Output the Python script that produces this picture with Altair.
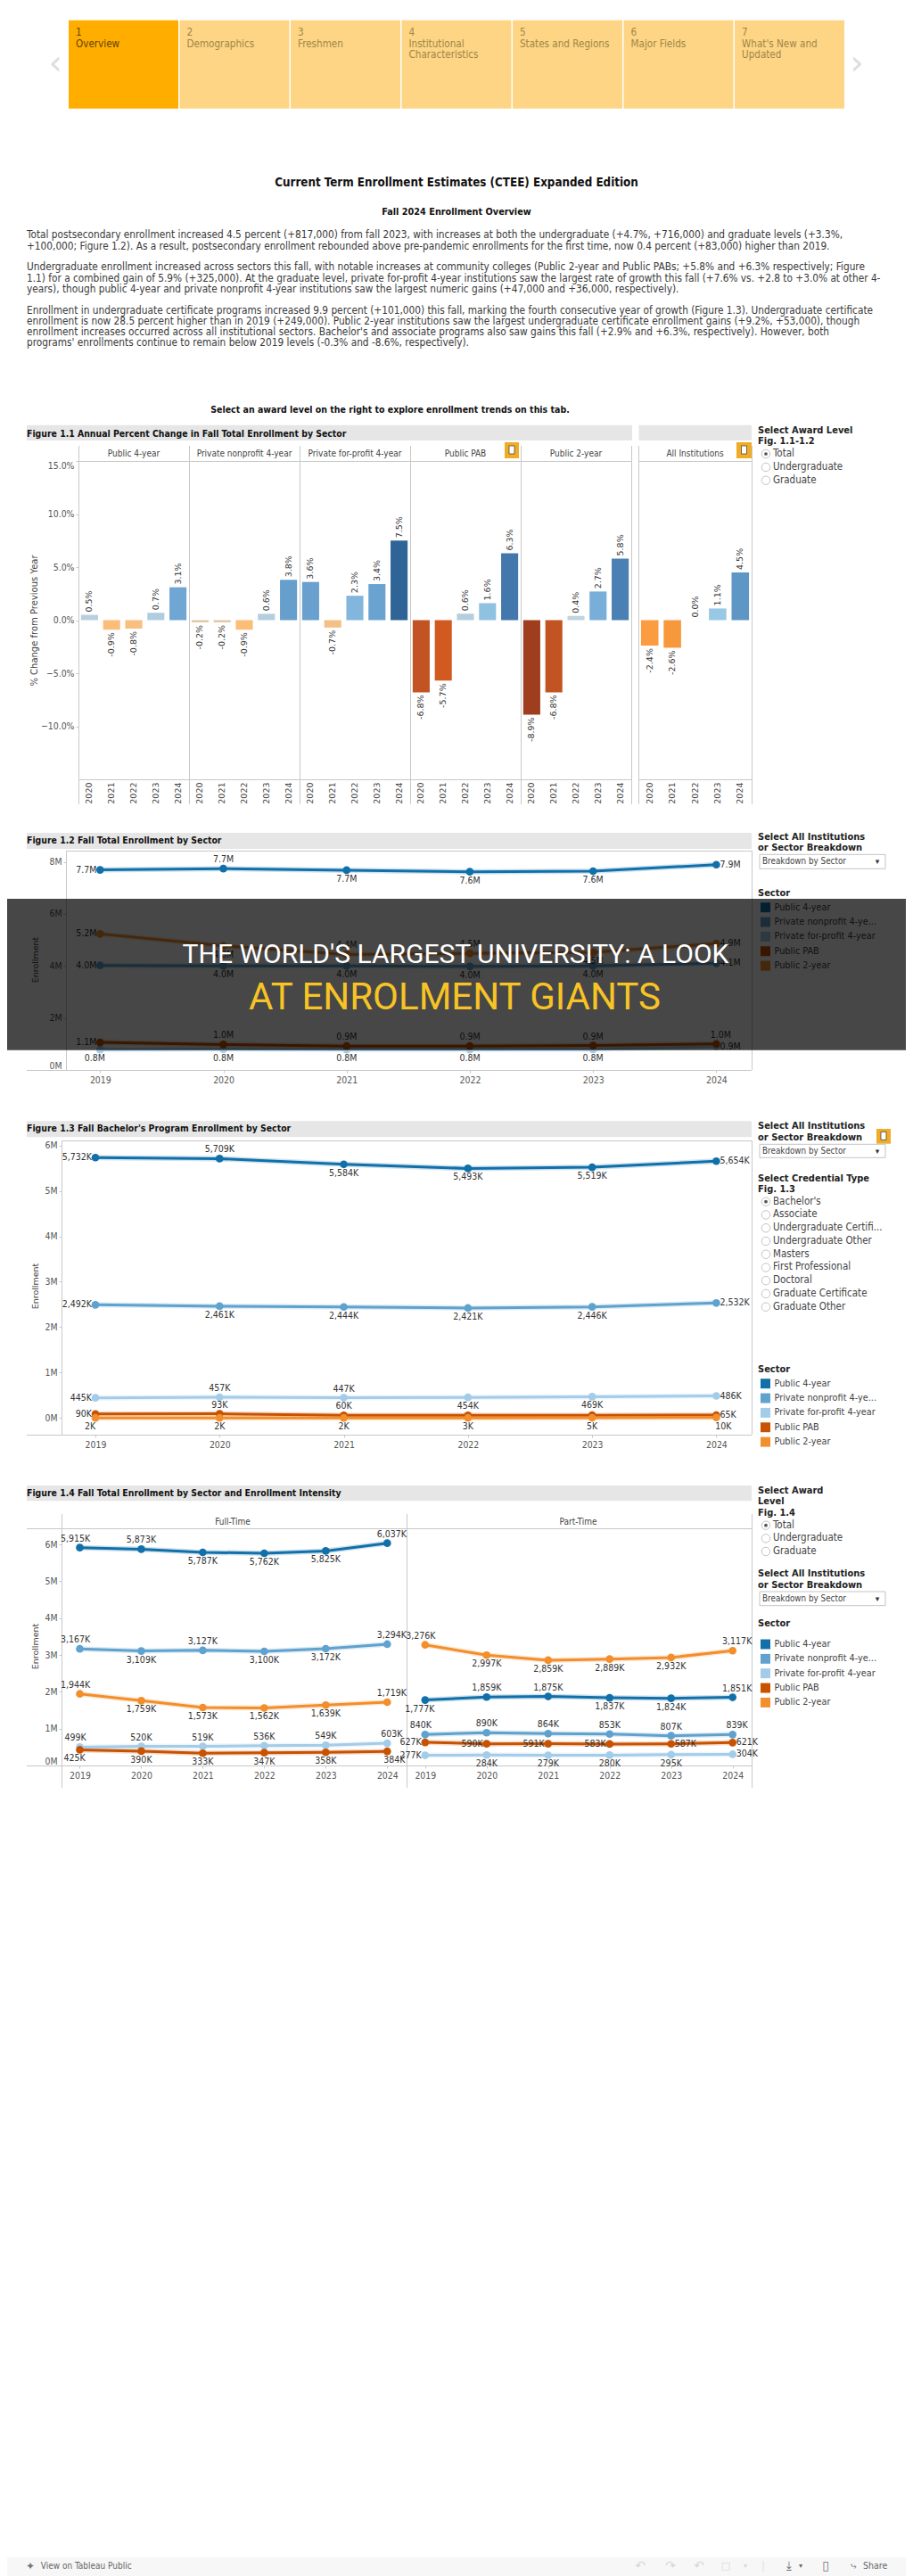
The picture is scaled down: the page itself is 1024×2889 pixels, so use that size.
import altair as alt
import pandas as pd

NARROW = "DejaVu Sans Condensed, DejaVu Sans, sans-serif"
WIDE = "DejaVu Sans, sans-serif"
GREY_RULE = "#c8c8c8"
BAR_GREY = "#e6e6e6"
TXT = "#333333"
CANVAS_W, CANVAS_H = 1008, 2881

# ---------------------------------------------------------------- data
TAB_NUMS = ["1", "2", "3", "4", "5", "6", "7"]
TAB_LINE1 = ["Overview", "Demographics", "Freshmen", "Institutional", "States and Regions", "Major Fields", "What's New and"]
TAB_LINE2 = ["", "", "", "Characteristics", "", "", "Updated"]

PARAGRAPH_LINES = [
    "Total postsecondary enrollment increased 4.5 percent (+817,000) from fall 2023, with increases at both the undergraduate (+4.7%, +716,000) and graduate levels (+3.3%,",
    "+100,000; Figure 1.2). As a result, postsecondary enrollment rebounded above pre-pandemic enrollments for the first time, now 0.4 percent (+83,000) higher than 2019.",
    "Undergraduate enrollment increased across sectors this fall, with notable increases at community colleges (Public 2-year and Public PABs; +5.8% and +6.3% respectively; Figure",
    "1.1) for a combined gain of 5.9% (+325,000). At the graduate level, private for-profit 4-year institutions saw the largest rate of growth this fall (+7.6% vs. +2.8 to +3.0% at other 4-",
    "years), though public 4-year and private nonprofit 4-year institutions saw the largest numeric gains (+47,000 and +36,000, respectively).",
    "Enrollment in undergraduate certificate programs increased 9.9 percent (+101,000) this fall, marking the fourth consecutive year of growth (Figure 1.3). Undergraduate certificate",
    "enrollment is now 28.5 percent higher than in 2019 (+249,000). Public 2-year institutions saw the largest undergraduate certificate enrollment gains (+9.2%, +53,000), though",
    "enrollment increases occurred across all institutional sectors. Bachelor's and associate programs also saw gains this fall (+2.9% and +6.3%, respectively). However, both",
    "programs' enrollments continue to remain below 2019 levels (-0.3% and -8.6%, respectively).",
]
PARAGRAPH_Y = [263.3, 275.7, 299.3, 311.7, 324, 347.7, 360, 372.3, 384.3]

BAR_YEARS = [2020, 2021, 2022, 2023, 2024]
PCT_PUBLIC4 = [0.5, -0.9, -0.8, 0.7, 3.1]
PCT_NONPROFIT = [-0.2, -0.2, -0.9, 0.6, 3.8]
PCT_FORPROFIT = [3.6, -0.7, 2.3, 3.4, 7.5]
PCT_PAB = [-6.8, -5.7, 0.6, 1.6, 6.3]
PCT_TWOYEAR = [-8.9, -6.8, 0.4, 2.7, 5.8]
PCT_ALL = [-2.4, -2.6, 0.0, 1.1, 4.5]

YEARS = [2019, 2020, 2021, 2022, 2023, 2024]
SECTORS = ["Public 4-year", "Private nonprofit 4-year", "Private for-profit 4-year", "Public PAB", "Public 2-year"]
SECTOR_SHOWN = ["Public 4-year", "Private nonprofit 4-ye...", "Private for-profit 4-year", "Public PAB", "Public 2-year"]
SECTOR_COLORS = ["#1170aa", "#5fa2ce", "#a3cce9", "#c85200", "#f28e2b"]
CREDENTIALS = ["Bachelor's", "Associate", "Undergraduate Certifi...", "Undergraduate Other", "Masters", "First Professional",
               "Doctoral", "Graduate Certificate", "Graduate Other"]

F12 = {
    "Public 4-year": [7.69, 7.74, 7.68, 7.62, 7.64, 7.89],
    "Private nonprofit 4-year": [4.02, 4.00, 4.00, 3.98, 4.00, 4.10],
    "Private for-profit 4-year": [0.78, 0.80, 0.78, 0.78, 0.79, 0.90],
    "Public PAB": [1.06, 0.98, 0.92, 0.92, 0.94, 1.00],
    "Public 2-year": [5.23, 4.77, 4.44, 4.48, 4.52, 4.86],
}
F13 = {
    "Public 4-year": [5732, 5709, 5584, 5493, 5519, 5654],
    "Private nonprofit 4-year": [2492, 2461, 2444, 2421, 2446, 2532],
    "Private for-profit 4-year": [445, 457, 447, 454, 469, 486],
    "Public PAB": [90, 93, 60, 58, 62, 65],
    "Public 2-year": [2, 2, 2, 3, 5, 10],
}
F14_FT = {
    "Public 4-year": [5915, 5873, 5787, 5762, 5825, 6037],
    "Private nonprofit 4-year": [3167, 3109, 3127, 3100, 3172, 3294],
    "Private for-profit 4-year": [499, 520, 519, 536, 549, 603],
    "Public PAB": [425, 390, 333, 347, 358, 384],
    "Public 2-year": [1944, 1759, 1573, 1562, 1639, 1719],
}
F14_PT = {
    "Public 4-year": [1777, 1859, 1875, 1837, 1824, 1851],
    "Private nonprofit 4-year": [840, 890, 864, 853, 807, 839],
    "Private for-profit 4-year": [277, 284, 279, 280, 295, 304],
    "Public PAB": [627, 590, 591, 583, 587, 621],
    "Public 2-year": [3276, 2997, 2859, 2889, 2932, 3117],
}

# label placement, kept apart from the values
P12 = {
    "Public 4-year": ["l", "a", "b", "b", "b", "r"],
    "Private nonprofit 4-year": ["l", "b", "b", "b", "b", "r"],
    "Private for-profit 4-year": ["bl", "b", "b", "b", "b", "r"],
    "Public PAB": ["l", "a", "a", "a", "a", "ar"],
    "Public 2-year": ["l", "b", "a", "a", "b", "r"],
}
P13 = {
    "Public 4-year": ["l", "a", "b", "b", "b", "r"],
    "Private nonprofit 4-year": ["l", "b", "b", "b", "b", "r"],
    "Private for-profit 4-year": ["l", "a", "a", "b", "b", "r"],
    "Public PAB": ["l", "a", "a", "n", "n", "r"],
    "Public 2-year": ["bl", "b", "b", "b", "b", "br"],
}
P14_FT = {
    "Public 4-year": ["al", "a", "b", "b", "b", "ar"],
    "Private nonprofit 4-year": ["al", "b", "a", "b", "b", "ar"],
    "Private for-profit 4-year": ["al", "a", "a", "a", "a", "ar"],
    "Public PAB": ["bl", "b", "b", "b", "b", "br"],
    "Public 2-year": ["al", "b", "b", "b", "b", "ar"],
}
P14_PT = {
    "Public 4-year": ["bl", "a", "a", "b", "b", "ar"],
    "Private nonprofit 4-year": ["al", "a", "a", "a", "a", "ar"],
    "Private for-profit 4-year": ["l", "b", "b", "b", "b", "r"],
    "Public PAB": ["l", "l", "l", "l", "r", "r"],
    "Public 2-year": ["al", "b", "b", "b", "b", "ar"],
}
PLACES = {
    "a": (0, -10, "center"), "b": (0, 10, "center"), "l": (-4, 0, "right"), "r": (4, 0, "left"),
    "al": (-5, -10, "center"), "ar": (5, -10, "center"), "bl": (-6, 10, "center"), "br": (8, 10, "center"),
}

L = []  # every layer of the page


# ---------------------------------------------------------------- chrome helpers (page coordinates)
def px(x):
    return x - 8


def one(v=""):
    return alt.Chart(alt.Data(values=[{"t": v}]))


def box(x1, y1, x2, y2, color, **kw):
    L.append(one().mark_rect(color=color, **kw).encode(
        x=alt.value(px(x1)), x2=alt.value(px(x2)), y=alt.value(px(y1)), y2=alt.value(px(y2))))


def text(s, x, y, size=10.5, color=TXT, align="left", font=NARROW, weight="normal", **kw):
    L.append(one(s).mark_text(align=align, baseline="middle", fontSize=size, color=color, font=font,
                              fontWeight=weight, **kw).encode(x=alt.value(px(x)), y=alt.value(px(y)), text="t:N"))


def radio(label, y, selected=False):
    L.append(one().mark_point(size=90, filled=False, color="#c4c4c4", strokeWidth=1, opacity=1).encode(
        x=alt.value(px(859)), y=alt.value(px(y))))
    text(label, 867, y, size=11.5, color="#444444")
    if selected:
        L.append(one().mark_point(size=14, filled=True, color="#555555", opacity=1).encode(
            x=alt.value(px(859)), y=alt.value(px(y))))


def head(s, y):
    text(s, 850, y, size=11, weight="bold", color="#222222")


def dropdown(y1, y2):
    L.append(one().mark_rect(fill="white", stroke="#c4c4c4", strokeWidth=1).encode(
        x=alt.value(px(852)), x2=alt.value(px(993)), y=alt.value(px(y1)), y2=alt.value(px(y2))))
    text("Breakdown by Sector", 855, (y1 + y2) / 2, size=9.8, color="#444444")
    text("\u25be", 984, (y1 + y2) / 2, size=9, font=WIDE, color="#333333", align="center")


def icon(x1, y1, x2, y2):
    cx, cy = (x1 + x2) / 2, (y1 + y2) / 2
    box(x1, y1, x2, y2, "#f0ac27")
    box(cx - 3, cy - 5, cx + 3, cy + 4, "#ffffff", stroke="#333333", strokeWidth=0.7)


def sector_key(y_first):
    df = pd.DataFrame({"sector": SECTORS, "shown": SECTOR_SHOWN})
    col = alt.Color("sector:N", scale=alt.Scale(domain=SECTORS, range=SECTOR_COLORS), legend=None)
    y = alt.Y("sector:N", axis=None, scale=alt.Scale(type="point", domain=SECTORS,
                                                     range=[px(y_first), px(y_first + 4 * 16.35)], padding=0))
    L.append(alt.Chart(df).mark_point(shape="square", filled=True, size=120, opacity=1).encode(
        x=alt.value(px(858.5)), y=y, color=col))
    L.append(alt.Chart(df).mark_text(align="left", baseline="middle", font=NARROW, fontSize=10.8, color="#444444").encode(
        x=alt.value(px(868.5)), y=y, text="shown:N"))


# ---------------------------------------------------------------- header
tabs = pd.DataFrame({"tab": TAB_LINE1, "num": TAB_NUMS, "line2": TAB_LINE2, "state": ["on"] + ["off"] * 6})
TAB_SCALE = alt.Scale(type="band", domain=TAB_LINE1, range=[px(77), px(947)], paddingInner=0.012, paddingOuter=0)
L.append(alt.Chart(tabs).mark_bar().encode(
    x=alt.X("tab:N", axis=None, scale=TAB_SCALE), y=alt.value(px(22.7)), y2=alt.value(px(121.7)),
    color=alt.Color("state:N", scale=alt.Scale(domain=["on", "off"], range=["#ffae00", "#fdd585"]), legend=None)))
for field, yy in [("num", 37.3), ("tab", 49.7), ("line2", 62)]:
    L.append(alt.Chart(tabs).mark_text(align="left", baseline="middle", dx=8, fontSize=11.6, font=NARROW).encode(
        x=alt.X("tab:N", axis=None, bandPosition=0, scale=TAB_SCALE), y=alt.value(px(yy)), text=f"{field}:N",
        color=alt.Color("state:N", scale=alt.Scale(domain=["on", "off"], range=["#5e4200", "#a08548"]), legend=None)))
text("\u2039", 62, 72, size=38, color="#dddddd", align="center", font=WIDE)
text("\u203a", 961, 72, size=38, color="#dddddd", align="center", font=WIDE)
text("Current Term Enrollment Estimates (CTEE) Expanded Edition", 512, 205, size=13.3, weight="bold", color="#111111", align="center")
text("Fall 2024 Enrollment Overview", 512, 237.7, size=10.8, weight="bold", color="#111111", align="center")
for ln, yy in zip(PARAGRAPH_LINES, PARAGRAPH_Y):
    text(ln, 30, yy, size=11.75, color="#3a3a3a")

# ---------------------------------------------------------------- figure 1.1
text("Select an award level on the right to explore enrollment trends on this tab.", 437.5, 460, size=10.5, weight="bold", color="#111111", align="center")
box(30, 476.7, 709, 494, BAR_GREY)
box(716.5, 476.7, 843, 494, BAR_GREY)
text("Figure 1.1 Annual Percent Change in Fall Total Enrollment by Sector", 30, 486.5, size=10.4, weight="bold", color="#111111")
head("Select Award Level", 482.7)
head("Fig. 1.1-1.2", 495)
for lab, yy, sel in [("Total", 509, True), ("Undergraduate", 524, False), ("Graduate", 538.7, False)]:
    radio(lab, yy, sel)

T1, B1 = 517, 874
BAR_STOPS = [-8.9, -6.8, -5.7, -2.4, -0.9, -0.2, 0, 0.5, 1.1, 2.3, 3.1, 4.5, 6.3, 7.5]
BAR_RANGE = ["#9f3e1f", "#c25423", "#d15a20", "#fa9c3f", "#fbbd78", "#e3c7a8", "#e4e4e4", "#b9cfdd",
             "#98c8e4", "#82b6dc", "#6fa6d3", "#5e96c6", "#4278ac", "#2f6497"]


def bar_panel(title, vals, x0, w, first=False):
    df = pd.DataFrame({"year": BAR_YEARS, "v": vals, "lab": [f"{v:.1f}%" for v in vals]})
    xs = alt.Scale(type="band", domain=BAR_YEARS, range=[px(x0), px(x0 + w)], paddingInner=0.23, paddingOuter=0.115)
    ys = alt.Scale(domain=[-15, 15], range=[px(B1), px(T1)])
    x_ax = alt.Axis(orient="bottom", title=None, labelAngle=270, labelFont=WIDE, labelFontSize=9.5, labelColor="#444444", ticks=False,
                    domain=False, labelPadding=3, labelBaseline="middle", labelAlign="right",
                    offset=-(CANVAS_H - px(B1)))
    y_ax = alt.Axis(orient="left", title="% Change from Previous Year", titleFont=WIDE, titleFontSize=10, titleFontWeight="normal",
                    titleColor="#444444", titleX=-49.5, titleY=px((T1 + B1) / 2), titleBaseline="middle", titleAlign="center",
                    values=[-10, -5, 0, 5, 10, 15], labelExpr="format(datum.value,'.1f')+'%'", labelFont=NARROW,
                    labelFontSize=10.4, labelColor="#555555", labelFlush=True, tickColor=GREY_RULE, tickSize=3,
                    domain=False, grid=False, offset=-px(x0)) if first else None
    box(x0, T1 - 17, x0 + 1, T1 + 385, GREY_RULE)
    box(x0, T1, x0 + w, T1 + 1, GREY_RULE)
    box(x0, B1, x0 + w, B1 + 1, GREY_RULE)
    base = alt.Chart(df)
    L.append(base.mark_bar().encode(
        x=alt.X("year:O", scale=xs, axis=x_ax), y=alt.Y("v:Q", scale=ys, axis=y_ax),
        color=alt.Color("v:Q", legend=None, scale=alt.Scale(domain=BAR_STOPS, range=BAR_RANGE))))
    for cond, al, dx in [("datum.v >= 0", "left", 3), ("datum.v < 0", "right", -3)]:
        L.append(base.transform_filter(cond).mark_text(angle=270, align=al, baseline="middle", dx=dx, font=WIDE, fontSize=9.5,
                                                       color=TXT).encode(
            x=alt.X("year:O", scale=xs, axis=None), y=alt.Y("v:Q", scale=ys, axis=None), text="lab:N"))
    text(title, x0 + w / 2, 509, size=10, color="#444444", align="center")


bar_panel("Public 4-year", PCT_PUBLIC4, 88, 124, first=True)
bar_panel("Private nonprofit 4-year", PCT_NONPROFIT, 212, 124)
bar_panel("Private for-profit 4-year", PCT_FORPROFIT, 336, 124)
bar_panel("Public PAB", PCT_PAB, 460, 124)
bar_panel("Public 2-year", PCT_TWOYEAR, 584, 124)
bar_panel("All Institutions", PCT_ALL, 716, 127)
box(708, T1 - 17, 709, T1 + 385, GREY_RULE)
box(843, T1 - 17, 844, T1 + 385, GREY_RULE)
icon(566, 496, 582, 514)
icon(826, 496, 843, 514)


# ---------------------------------------------------------------- line panels
def long_table(values, places, fmt):
    rows = []
    for s in SECTORS:
        for yr, v, p in zip(YEARS, values[s], places[s]):
            rows.append({"sector": s, "year": yr, "v": v, "lab": fmt(v), "place": p})
    return pd.DataFrame(rows)


def line_panel(df, x_first, x_last, x_axis_px, y_bottom, y_top, domain, ticks=None, expr=None, title_y=None, title_x=None, axis_x=None):
    """x_first/x_last: page x of 2019/2024; y_bottom/y_top: page y of the domain ends."""
    base = alt.Chart(df)
    xs = alt.Scale(type="point", domain=YEARS, range=[px(x_first), px(x_last)], padding=0)
    ys = alt.Scale(domain=domain, range=[px(y_bottom), px(y_top)])
    col = alt.Color("sector:N", scale=alt.Scale(domain=SECTORS, range=SECTOR_COLORS), legend=None)
    x_ax = alt.Axis(orient="bottom", title=None, labelAngle=0, labelFont=NARROW, labelFontSize=10.4, labelColor="#555555", tickColor=GREY_RULE,
                    tickSize=3, domain=False, labelPadding=3, offset=-(CANVAS_H - px(x_axis_px)))
    y_ax = None
    if ticks is not None:
        y_ax = alt.Axis(orient="left", title="Enrollment", titleFont=WIDE, titleFontSize=9.5, titleFontWeight="normal", titleColor="#444444",
                        titleX=title_x, titleY=px(title_y), titleBaseline="middle", titleAlign="center", values=ticks,
                        labelExpr=expr, labelFont=NARROW, labelFontSize=10.4, labelColor="#555555", labelFlush=True,
                        tickColor=GREY_RULE, tickSize=3, domain=False, grid=False, offset=-px(axis_x))
    L.append(base.mark_line(strokeWidth=6, opacity=0.2).encode(
        x=alt.X("year:O", scale=xs, axis=x_ax), y=alt.Y("v:Q", scale=ys, axis=y_ax), color=col))
    x_n, y_n = alt.X("year:O", scale=xs, axis=None), alt.Y("v:Q", scale=ys, axis=None)
    L.append(base.mark_line(strokeWidth=3).encode(x=x_n, y=y_n, color=col))
    L.append(base.mark_point(filled=True, size=75, opacity=1).encode(x=x_n, y=y_n, color=col))
    for code, (dx, dy, al) in PLACES.items():
        L.append(base.transform_filter(f"datum.place == '{code}'").mark_text(
            dx=dx, dy=dy, align=al, baseline="middle", font=NARROW, fontSize=10.5, color=TXT).encode(x=x_n, y=y_n, text="lab:N"))


# figure 1.2
box(30, 934, 843, 952, BAR_GREY)
text("Figure 1.2 Fall Total Enrollment by Sector", 30, 942.7, size=10.4, weight="bold", color="#111111")
box(74, 954, 843, 955, GREY_RULE)
box(74, 954, 75, 1200, GREY_RULE)
box(843, 954, 844, 1200, GREY_RULE)
box(30, 1200, 843, 1201, GREY_RULE)
line_panel(long_table(F12, P12, lambda v: f"{v:.1f}M"), 112.3, 803.4, 1200, 1200, 954, [0, 8.43],
           ticks=[0, 2, 4, 6, 8], expr="datum.value+'M'", title_y=1076, title_x=-35, axis_x=74)
head("Select All Institutions", 939)
head("or Sector Breakdown", 951.3)
dropdown(958.3, 974.3)
head("Sector", 1002.3)
sector_key(1017.7)

# overlay band
box(8, 1008, 1016, 1177.7, "#000000", opacity=0.72)
text("THE WORLD'S LARGEST UNIVERSITY: A LOOK", 511, 1071, size=30, color="#ffffff", align="center", font="Roboto")
text("AT ENROLMENT GIANTS", 510, 1119, size=42, color="#f7c325", align="center", font="Roboto")

# figure 1.3
box(30, 1257.3, 843, 1275.3, BAR_GREY)
text("Figure 1.3 Fall Bachelor's Program Enrollment by Sector", 30, 1266, size=10.4, weight="bold", color="#111111")
box(69, 1279, 843, 1280, GREY_RULE)
box(69, 1279, 70, 1609, GREY_RULE)
box(843, 1279, 844, 1609, GREY_RULE)
box(30, 1609, 843, 1610, GREY_RULE)
line_panel(long_table(F13, P13, lambda v: f"{v:,}K"), 107, 803.4, 1609, 1609, 1279, [-367, 6110],
           ticks=[0, 1000, 2000, 3000, 4000, 5000, 6000], expr="(datum.value/1000)+'M'", title_y=1442, title_x=-30, axis_x=69)
head("Select All Institutions", 1263.3)
head("or Sector Breakdown", 1275.7)
icon(983, 1266, 999, 1282.7)
dropdown(1283.3, 1298.3)
head("Select Credential Type", 1321.7)
head("Fig. 1.3", 1334)
for i, lab in enumerate(CREDENTIALS):
    radio(lab, 1347.7 + i * 14.75, i == 0)
head("Sector", 1536.3)
sector_key(1551.7)

# figure 1.4
box(30, 1666, 843, 1683.3, BAR_GREY)
text("Figure 1.4 Fall Total Enrollment by Sector and Enrollment Intensity", 30, 1675, size=10.4, weight="bold", color="#111111")
box(30, 1714, 843, 1715, GREY_RULE)
text("Full-Time", 261, 1706.7, size=10, color="#444444", align="center")
text("Part-Time", 648.6, 1706.7, size=10, color="#444444", align="center")
for vx in (69, 456, 843):
    box(vx, 1698, vx + 1, 2005, GREY_RULE)
box(30, 1980, 843, 1981, GREY_RULE)
line_panel(long_table(F14_FT, P14_FT, lambda v: f"{v:,}K"), 89.5, 434.3, 1980, 1980, 1714, [0, 6440],
           ticks=[0, 1000, 2000, 3000, 4000, 5000, 6000], expr="(datum.value/1000)+'M'", title_y=1846, title_x=-30, axis_x=69)
line_panel(long_table(F14_PT, P14_PT, lambda v: f"{v:,}K"), 476.8, 821.7, 1980, 1980, 1714, [0, 6440])
head("Select Award", 1672.3)
head("Level", 1684.3)
head("Fig. 1.4", 1696.7)
for lab, yy, sel in [("Total", 1710.7, True), ("Undergraduate", 1725.3, False), ("Graduate", 1740, False)]:
    radio(lab, yy, sel)
head("Select All Institutions", 1765.3)
head("or Sector Breakdown", 1778)
dropdown(1785, 1800.7)
head("Sector", 1821.3)
sector_key(1844)

# footer
box(8, 2868, 1016, 2889, "#f7f7f7")
text("\u2726", 34, 2878, size=12, font=WIDE, color="#777777", align="center")
text("View on Tableau Public", 45.7, 2878, size=10, color="#666666")
for g, gx in [("\u21b6", 718), ("\u21b7", 752), ("\u21b6", 784)]:
    text(g, gx, 2878, size=14, font=WIDE, color="#d5d5d5", align="center")
text("\u25a1", 814, 2878, size=11, font=WIDE, color="#d5d5d5", align="center")
text("\u25be", 836, 2878, size=8, font=WIDE, color="#d5d5d5", align="center")
box(855.5, 2872, 856.5, 2884, "#dddddd")
text("\u2913", 885, 2878, size=13, font=WIDE, color="#666666", align="center")
text("\u25be", 898, 2878, size=8, font=WIDE, color="#666666", align="center")
text("\u25af", 926, 2878, size=14, font=WIDE, color="#777777", align="center")
text("\u2937", 957, 2878, size=11, font=WIDE, color="#777777", align="center")
text("Share", 968, 2878, size=10.5, color="#666666")

chart = alt.layer(*L).resolve_scale(x="independent", y="independent", color="independent").resolve_axis(
    x="independent", y="independent").properties(
    width=CANVAS_W, height=CANVAS_H, padding=0, background="white",
    autosize=alt.AutoSizeParams(type="none", contains="content")
).configure_view(stroke=None)

chart.save("out.html", embed_options={"renderer": "svg", "actions": False})
